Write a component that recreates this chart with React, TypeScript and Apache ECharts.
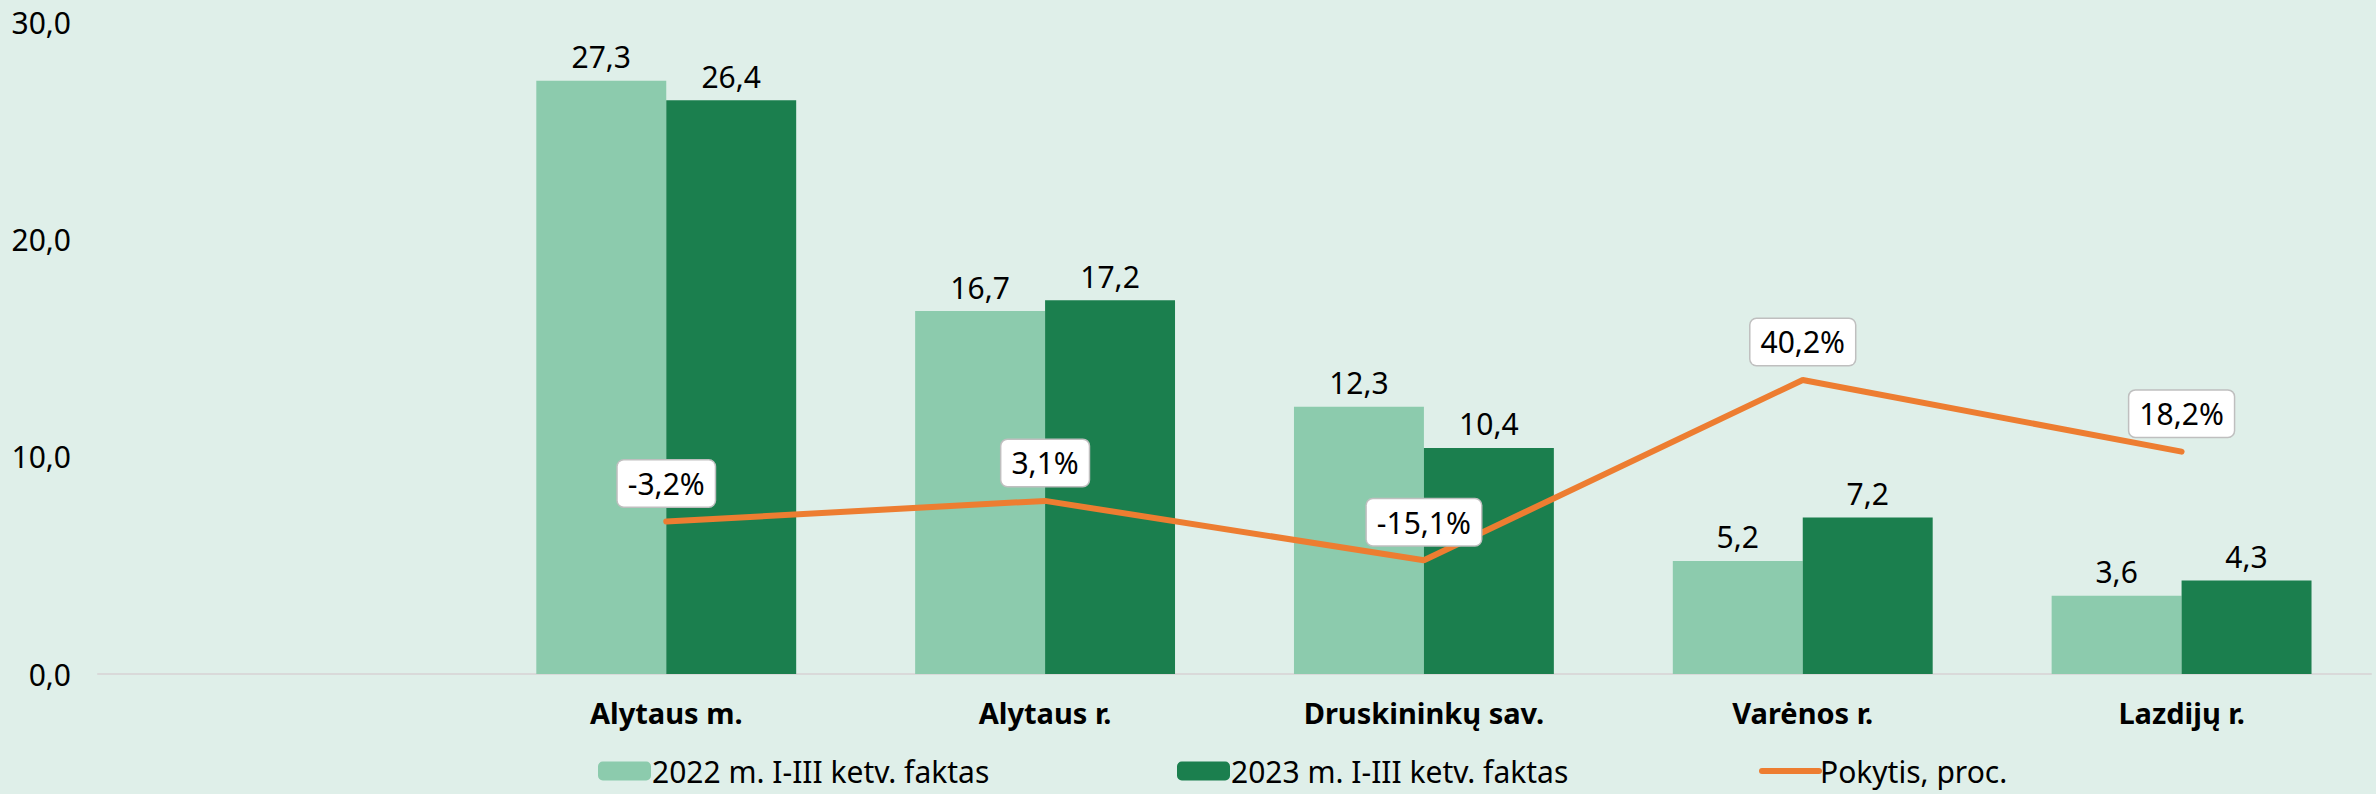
import React, { useEffect, useRef } from "react";
import * as echarts from "echarts";

const categories = ["", "Alytaus m.", "Alytaus r.", "Druskininkų sav.", "Varėnos r.", "Lazdijų r."];
const seriesNames = ["2022 m. I-III ketv. faktas", "2023 m. I-III ketv. faktas", "Pokytis, proc."];
const values2022 = [null, 27.3, 16.7, 12.3, 5.2, 3.6];
const values2023 = [null, 26.4, 17.2, 10.4, 7.2, 4.3];
const changePct = [null, -3.2, 3.1, -15.1, 40.2, 18.2];

const FONT = "'Noto Sans', 'DejaVu Sans', sans-serif";
const comma = (v: number, d: number) => v.toFixed(d).replace(".", ",");

export default function App() {
  const ref = useRef<HTMLDivElement>(null);
  useEffect(() => {
    if (!ref.current) return;
    const chart = echarts.init(ref.current, undefined, { renderer: "svg" });
    const legendBase = {
      top: 751,
      itemWidth: 53,
      itemHeight: 19,
      itemGap: 6,
      textStyle: { fontFamily: FONT, fontSize: 30, color: "#000", lineHeight: 30, padding: [0, 0, 0, -4] },
    };
    chart.setOption({
      animation: false,
      backgroundColor: "#DFEFE9",
      textStyle: { fontFamily: FONT },
      grid: { left: 98, right: 5, top: 22, bottom: 120, containLabel: false },
      legend: [
        { ...legendBase, left: 593, data: [seriesNames[0]] },
        { ...legendBase, left: 1172, data: [seriesNames[1]] },
        {
          ...legendBase,
          left: 1754,
          itemWidth: 57,
          itemStyle: { opacity: 0 },
          lineStyle: { width: 6, color: "#ED7D31" },
          data: [seriesNames[2]],
        },
      ],
      xAxis: {
        type: "category",
        data: categories,
        axisLine: { show: true, lineStyle: { color: "#D9D9D9", width: 2 } },
        axisTick: { show: false },
        axisLabel: {
          fontFamily: FONT,
          fontSize: 29,
          fontWeight: "bold",
          color: "#000",
          margin: 24,
          interval: 0,
        },
      },
      yAxis: [
        {
          type: "value",
          min: 0,
          max: 30,
          interval: 10,
          axisLine: { show: false },
          axisTick: { show: false },
          splitLine: { show: false },
          axisLabel: {
            fontFamily: FONT,
            fontSize: 30,
            color: "#000",
            margin: 27,
            formatter: (v: number) => comma(v, 1),
          },
        },
        {
          type: "value",
          min: -50,
          max: 150,
          interval: 50,
          show: false,
          splitLine: { show: false },
        },
      ],
      series: [
        {
          name: seriesNames[0],
          type: "bar",
          data: values2022,
          barGap: "0%",
          barCategoryGap: "31.4%",
          itemStyle: { color: "#8CCBAD" },
          label: {
            show: true,
            position: "top",
            distance: 9,
            fontFamily: FONT,
            fontSize: 30,
            color: "#000",
            formatter: (p: any) => comma(p.value, 1),
          },
        },
        {
          name: seriesNames[1],
          type: "bar",
          data: values2023,
          itemStyle: { color: "#1B7F4E" },
          label: {
            show: true,
            position: "top",
            distance: 9,
            fontFamily: FONT,
            fontSize: 30,
            color: "#000",
            formatter: (p: any) => comma(p.value, 1),
          },
        },
        {
          name: seriesNames[2],
          type: "line",
          yAxisIndex: 1,
          data: changePct,
          symbol: "circle",
          symbolSize: 2,
          showSymbol: true,
          connectNulls: false,
          lineStyle: { color: "#ED7D31", width: 6, cap: "round" },
          itemStyle: { color: "#ED7D31" },
          z: 5,
          label: {
            show: true,
            position: "top",
            distance: 14,
            fontFamily: FONT,
            fontSize: 30,
            lineHeight: 30,
            color: "#000",
            backgroundColor: "#FFFFFF",
            borderColor: "#BFBFBF",
            borderWidth: 1.5,
            borderRadius: 6,
            padding: [8, 10, 8, 10],
            formatter: (p: any) => comma(p.value, 1) + "%",
          },
        },
      ],
    });
    return () => chart.dispose();
  }, []);
  return (
    <div
      ref={ref}
      style={{ position: "fixed", left: 0, top: 0, width: 2376, height: 794 }}
    />
  );
}
